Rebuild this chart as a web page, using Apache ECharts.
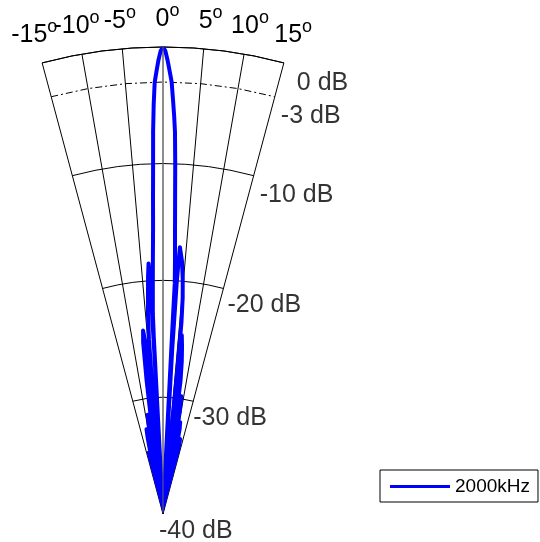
<!DOCTYPE html>
<html>
<head>
<meta charset="utf-8">
<script src="https://cdn.jsdelivr.net/npm/echarts@6/dist/echarts.min.js"></script>
<style>
  html, body { margin: 0; padding: 0; background: #ffffff; }
  #chart { width: 540px; height: 542px; }
</style>
</head>
<body>
<div id="chart"></div>
<script>
// beam pattern at 2000 kHz, angle in degrees, level in dB
const angleTicks = [-15, -10, -5, 0, 5, 10, 15]
const dbLevels = [0, -3, -10, -20, -30, -40]
const dbLabels = ['0 dB', '-3 dB', '-10 dB', '-20 dB', '-30 dB', '-40 dB']
const seriesName = '2000kHz'

const patternAngle = [
  -15, -14.7, -14.4, -14.1, -13.8, -13.5, -13.1, -12.7, -12.4, -12.1,
  -11.8, -11.4, -11.0, -10.6, -10.2, -9.9, -9.6, -9.2, -8.7, -8.3,
  -7.9, -7.6, -7.3, -7.0, -6.6, -6.2, -5.8, -5.5, -5.2, -5.0,
  -4.8, -4.6, -4.3, -4.0, -3.6, -3.3, -3.15, -3.08, -3.04, -2.98,
  -2.9, -2.6, -2.3, -2.0, -1.8, -1.62, -1.48, -1.3, -1.1, -0.85,
  -0.6, -0.3, 0, 0.3, 0.6, 0.9, 1.15, 1.4, 1.62, 1.8,
  2.0, 2.2, 2.42, 2.7, 2.92, 2.9, 2.88, 2.9, 3.2, 3.4,
  3.62, 3.9, 4.3, 4.8, 5.2, 5.5, 5.7, 5.85, 6.05, 6.0,
  6.5, 7.0, 7.5, 7.8, 8.0, 8.3, 8.8, 9.3, 9.6, 9.8,
  10.1, 10.6, 11.1, 11.6, 11.9, 12.3, 12.8, 13.4, 13.9, 14.3,
  14.6, 15
]
const patternDb = [
  -40, -37.5, -36.2, -38, -40, -36, -34.6, -35.5, -38.5, -40,
  -35.5, -33.4, -32.6, -33.8, -37, -40, -35, -32.4, -31.4, -32.2,
  -35, -40, -33, -28.5, -25.2, -24.2, -25.4, -28, -33, -40,
  -29, -25, -22.8, -21.6, -19.6, -18.5, -19.8, -26, -40, -25,
  -22.8, -20.8, -18.4, -15.6, -12.8, -10, -7.2, -4.9, -3.0, -2.1,
  -1.2, -0.35, 0, -0.35, -1.2, -2.2, -3.0, -4.6, -6.0, -7.3,
  -10, -13, -15.6, -18.2, -20.2, -22.8, -26, -40, -26, -20,
  -17.1, -17.6, -18.3, -19.8, -21.4, -23.5, -28, -40, -30, -24.6,
  -25.6, -26.8, -28.5, -33, -40, -32, -29.8, -31, -35, -40,
  -35, -32, -32.6, -35, -40, -35.5, -33.4, -34, -36.5, -40,
  -37.5, -40
]

const font = 'Liberation Sans, Arial, Helvetica, sans-serif'
// text placement tweaks (px)
const dbLabelOffsets = [[13, 20], [6, 19.5], [6, 19], [4, 17], [0, 17], [-4, 17]]
const tickLabelShift = [-5, -3.5, -1.5, 4.5, 6, 4, 6.5]

const chart = echarts.init(document.getElementById('chart'))

const beam = patternAngle.map((a, i) => [patternDb[i], a])
const minus3 = angleTicks.map(a => [-3, a])
const zeroLine = [[dbLevels[dbLevels.length - 1], 0], [dbLevels[0], 0]]

const tickRich = {
  n: { fontFamily: font, fontSize: 25, lineHeight: 34, color: '#000' },
  s: { fontFamily: font, fontSize: 18, lineHeight: 12, verticalAlign: 'top', color: '#000' }
}
tickLabelShift.forEach((s, i) => {
  tickRich['g' + i] = { width: Math.abs(s) * 2, lineHeight: 34 }
})

chart.setOption({
  animation: false,
  backgroundColor: '#ffffff',
  polar: {
    center: [163, 514],
    radius: 467
  },
  angleAxis: {
    type: 'value',
    min: -15,
    max: 15,
    interval: 5,
    startAngle: 105,
    endAngle: 75,
    clockwise: true,
    axisLine: { lineStyle: { color: '#000', width: 1 } },
    axisTick: { show: false },
    splitLine: {
      lineStyle: { color: ['#000', '#000', '#000', '#666', '#000', '#000', '#000'], width: 1 }
    },
    axisLabel: {
      margin: 11,
      color: '#000',
      formatter: v => {
        const idx = angleTicks.indexOf(v)
        const txt = `{n|${v}}{s|o}`
        return tickLabelShift[idx] < 0 ? `${txt}{g${idx}| }` : `{g${idx}| }${txt}`
      },
      rich: tickRich
    }
  },
  radiusAxis: {
    type: 'value',
    min: -40,
    max: 0,
    interval: 10,
    axisLine: { show: false },
    axisTick: { show: false },
    axisLabel: { show: false },
    splitLine: { lineStyle: { color: '#000', width: 1 } }
  },
  legend: {
    data: [seriesName],
    left: 380,
    top: 470,
    borderColor: '#000',
    borderWidth: 1,
    padding: [7, 8, 6, 10],
    icon: 'rect',
    itemWidth: 60,
    itemHeight: 3,
    textStyle: { fontFamily: font, fontSize: 19, color: '#000' }
  },
  series: [
    {
      type: 'line',
      coordinateSystem: 'polar',
      data: minus3,
      symbol: 'none',
      silent: true,
      z: 2,
      lineStyle: { color: '#000', width: 1, type: [7, 3, 2, 3] }
    },
    {
      name: seriesName,
      type: 'line',
      coordinateSystem: 'polar',
      data: beam,
      symbol: 'none',
      z: 3,
      itemStyle: { color: '#0000ff' },
      lineStyle: { color: '#0000ff', width: 4, join: 'round' }
    },
    {
      type: 'line',
      coordinateSystem: 'polar',
      data: zeroLine,
      symbol: 'none',
      silent: true,
      z: 4,
      lineStyle: { color: '#666', width: 1 }
    },
    {
      type: 'scatter',
      coordinateSystem: 'polar',
      symbolSize: 0,
      silent: true,
      z: 5,
      data: dbLevels.map((d, i) => ({
        value: [d, 15],
        label: {
          show: true,
          position: 'right',
          distance: 0,
          offset: dbLabelOffsets[i],
          formatter: dbLabels[i],
          fontFamily: font,
          fontSize: 25,
          color: '#000'
        }
      }))
    }
  ]
})
</script>
</body>
</html>
